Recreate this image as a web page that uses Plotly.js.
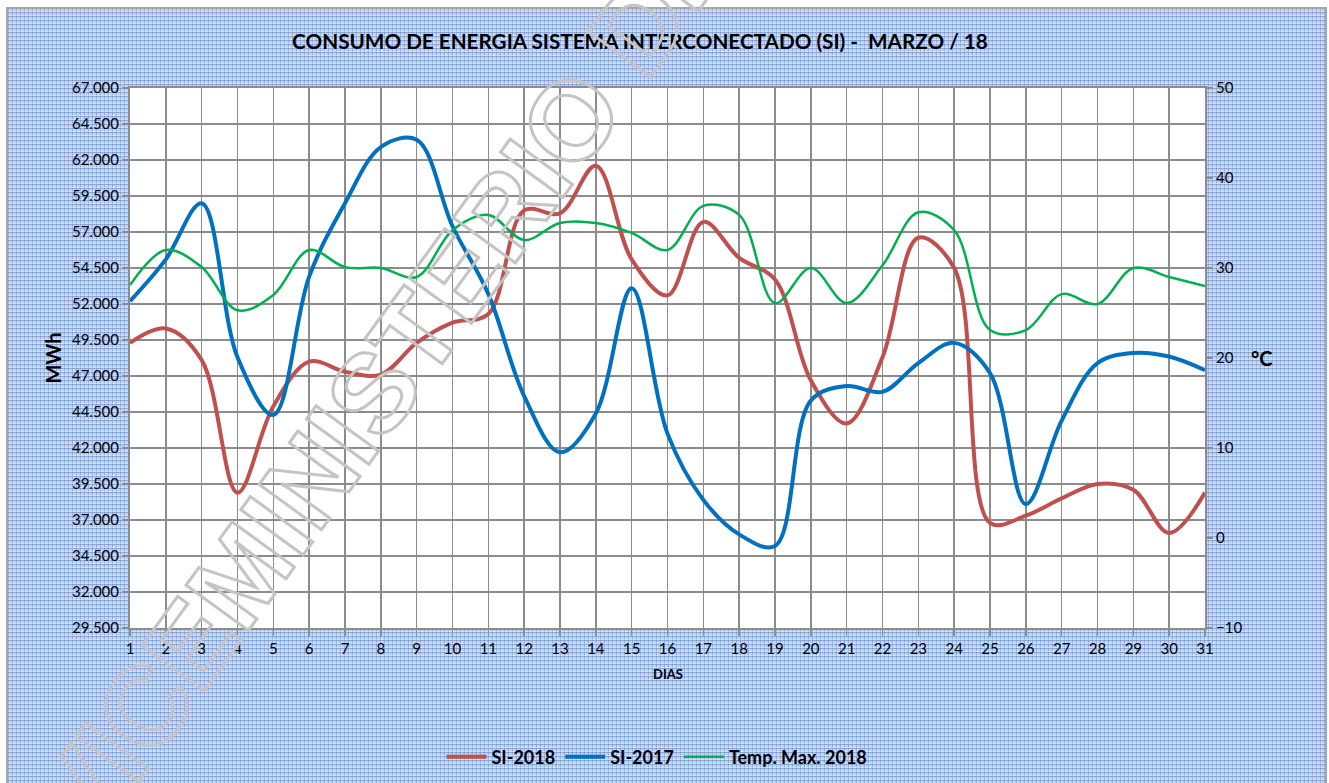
<!DOCTYPE html>
<html>
<head>
<meta charset="utf-8">
<script src="https://cdn.plot.ly/plotly-3.0.1.min.js"></script>
<style>
  html, body { margin: 0; padding: 0; background: #ffffff; width: 1329px; height: 783px; overflow: hidden; }
  #bg {
    position: absolute; left: 6px; top: 7px; width: 1317px; height: 780px;
    border-left: 2px solid #a6a6a6; border-top: 2px solid #a6a6a6; border-right: 2px solid #a6a6a6;
    background-color: #bed1ee;
    background-image:
      repeating-linear-gradient(0deg, rgba(95,135,200,0.55) 0px, rgba(95,135,200,0.55) 1px, rgba(255,255,255,0.30) 1px, rgba(255,255,255,0.30) 2px, rgba(0,0,0,0) 2px, rgba(0,0,0,0) 4px),
      repeating-linear-gradient(90deg, rgba(95,135,200,0.45) 0px, rgba(95,135,200,0.45) 1px, rgba(255,255,255,0.25) 1px, rgba(255,255,255,0.25) 2px, rgba(0,0,0,0) 2px, rgba(0,0,0,0) 4px);
  }
  #chart { position: absolute; left: 0; top: 0; width: 1329px; height: 783px; }
</style>
</head>
<body>
<div id="bg"></div>
<div id="chart"></div>
<script>
const days = [1,2,3,4,5,6,7,8,9,10,11,12,13,14,15,16,17,18,19,20,21,22,23,24,25,26,27,28,29,30,31];

const si2018 = [49300,50300,48100,38900,44900,48000,47300,47100,49300,50700,51300,58500,58300,61600,55100,
                52600,57700,55200,53700,46700,43700,48300,56600,54500,36800,37300,38500,39500,39100,36100,38900];

const si2017 = [52200,55100,59000,48300,44300,53900,59000,62900,63400,57400,52700,45600,41700,44400,53100,
                43000,38400,36000,35200,45300,46300,45900,47900,49300,47200,38100,43900,47900,48600,48350,47400];

const tempMax2018 = [28.1,32,30.1,25.3,27,32,30.1,30.0,29.0,34.2,35.9,33.1,35.0,35.0,33.9,
                     32,36.9,35.9,26.1,30,26.1,30.3,36.2,34.2,23.1,23.1,27.1,26.0,30.0,29.0,28.0];

const seriesNames = ['SI-2018', 'SI-2017', 'Temp. Max. 2018'];
const watermarkText = 'VICEMINISTERIO DE';

const FONT = 'Lato, "Open Sans", "Liberation Sans", sans-serif';

const traces = [
  { x: days, y: si2018, name: seriesNames[0], type: 'scatter', mode: 'lines',
    line: { color: '#C0504D', width: 4, shape: 'spline', smoothing: 1 }, yaxis: 'y' },
  { x: days, y: si2017, name: seriesNames[1], type: 'scatter', mode: 'lines',
    line: { color: '#0070C0', width: 4, shape: 'spline', smoothing: 1 }, yaxis: 'y' },
  { x: days, y: tempMax2018, name: seriesNames[2], type: 'scatter', mode: 'lines',
    line: { color: '#00B050', width: 2.5, shape: 'spline', smoothing: 1 }, yaxis: 'y2' }
];

const layout = {
  width: 1329, height: 783,
  margin: { l: 130, r: 124, t: 88, b: 155 },
  paper_bgcolor: 'rgba(0,0,0,0)',
  plot_bgcolor: '#ffffff',
  separators: ',.',
  font: { family: FONT, color: '#000000', size: 15 },
  title: {
    text: '<b>CONSUMO DE ENERGIA SISTEMA INTERCONECTADO (SI) -  MARZO / 18</b>',
    font: { family: FONT, size: 20.7, color: '#000000' },
    x: 640 / 1329, xref: 'container', xanchor: 'center',
    y: 1 - 42 / 783, yref: 'container', yanchor: 'middle'
  },
  xaxis: {
    range: [1, 31], tickmode: 'array', tickvals: days, ticktext: days.map(String),
    showgrid: true, gridcolor: '#8c8c8c', gridwidth: 1.5,
    showline: true, linecolor: '#8c8c8c', linewidth: 2, mirror: true,
    ticks: 'outside', ticklen: 6, tickcolor: '#8c8c8c', tickwidth: 1.5,
    tickfont: { family: FONT, size: 15, color: '#000000' },
    zeroline: false, fixedrange: true
  },
  yaxis: {
    range: [29500, 67000], tickmode: 'linear', tick0: 29500, dtick: 2500,
    tickformat: ',.0f',
    showgrid: true, gridcolor: '#8c8c8c', gridwidth: 1.5,
    showline: true, linecolor: '#8c8c8c', linewidth: 2, mirror: true,
    ticks: 'outside', ticklen: 6, tickcolor: '#8c8c8c', tickwidth: 1.5,
    tickfont: { family: FONT, size: 15, color: '#000000' },
    zeroline: false, fixedrange: true
  },
  yaxis2: {
    range: [-10, 50], tickmode: 'linear', tick0: -10, dtick: 10,
    overlaying: 'y', side: 'right', showgrid: false,
    showline: true, linecolor: '#8c8c8c', linewidth: 2,
    ticks: 'outside', ticklen: 6, tickcolor: '#8c8c8c', tickwidth: 1.5,
    tickfont: { family: FONT, size: 15, color: '#000000' },
    zeroline: false, fixedrange: true
  },
  showlegend: true,
  legend: {
    orientation: 'h', x: 657 / 1329, xref: 'container', xanchor: 'center',
    y: 1 - 757 / 783, yref: 'container', yanchor: 'middle',
    font: { family: FONT, size: 18, color: '#000000', weight: 'bold' },
    bgcolor: 'rgba(0,0,0,0)', itemwidth: 40, tracegroupgap: 0
  },
  annotations: [
    { text: '<b>MWh</b>', xref: 'paper', yref: 'paper', x: -0.072, y: 0.5,
      xanchor: 'center', yanchor: 'middle', textangle: -90, showarrow: false,
      font: { family: FONT, size: 20, color: '#000000' } },
    { text: '<b>°C</b>', xref: 'paper', yref: 'y2', x: 1.053, y: 20,
      xanchor: 'center', yanchor: 'middle', showarrow: false,
      font: { family: FONT, size: 20, color: '#000000' } },
    { text: '<b>DIAS</b>', xref: 'paper', yref: 'paper', x: (668 - 130) / 1075, y: -(674 - 628) / 540,
      xanchor: 'center', yanchor: 'middle', showarrow: false,
      font: { family: FONT, size: 13, color: '#000000' } },
    { text: watermarkText, xref: 'paper', yref: 'paper', x: (382 - 130) / 1075, y: (628 - 380) / 540,
      xanchor: 'center', yanchor: 'middle', textangle: -54, showarrow: false,
      font: { family: '"Liberation Sans", Arial, sans-serif', size: 112, color: '#c8c8c8', weight: 'bold' },
      name: 'watermark' }
  ]
};

Plotly.newPlot('chart', traces, layout, { displayModeBar: false, staticPlot: true }).then(function (gd) {
  const texts = gd.querySelectorAll('.annotation-text');
  texts.forEach(function (t) {
    if (t.textContent === watermarkText) {
      t.style.fill = 'none';
      t.style.stroke = '#c4c4c4';
      t.style.strokeWidth = '3px';
    }
  });
});
</script>
</body>
</html>
